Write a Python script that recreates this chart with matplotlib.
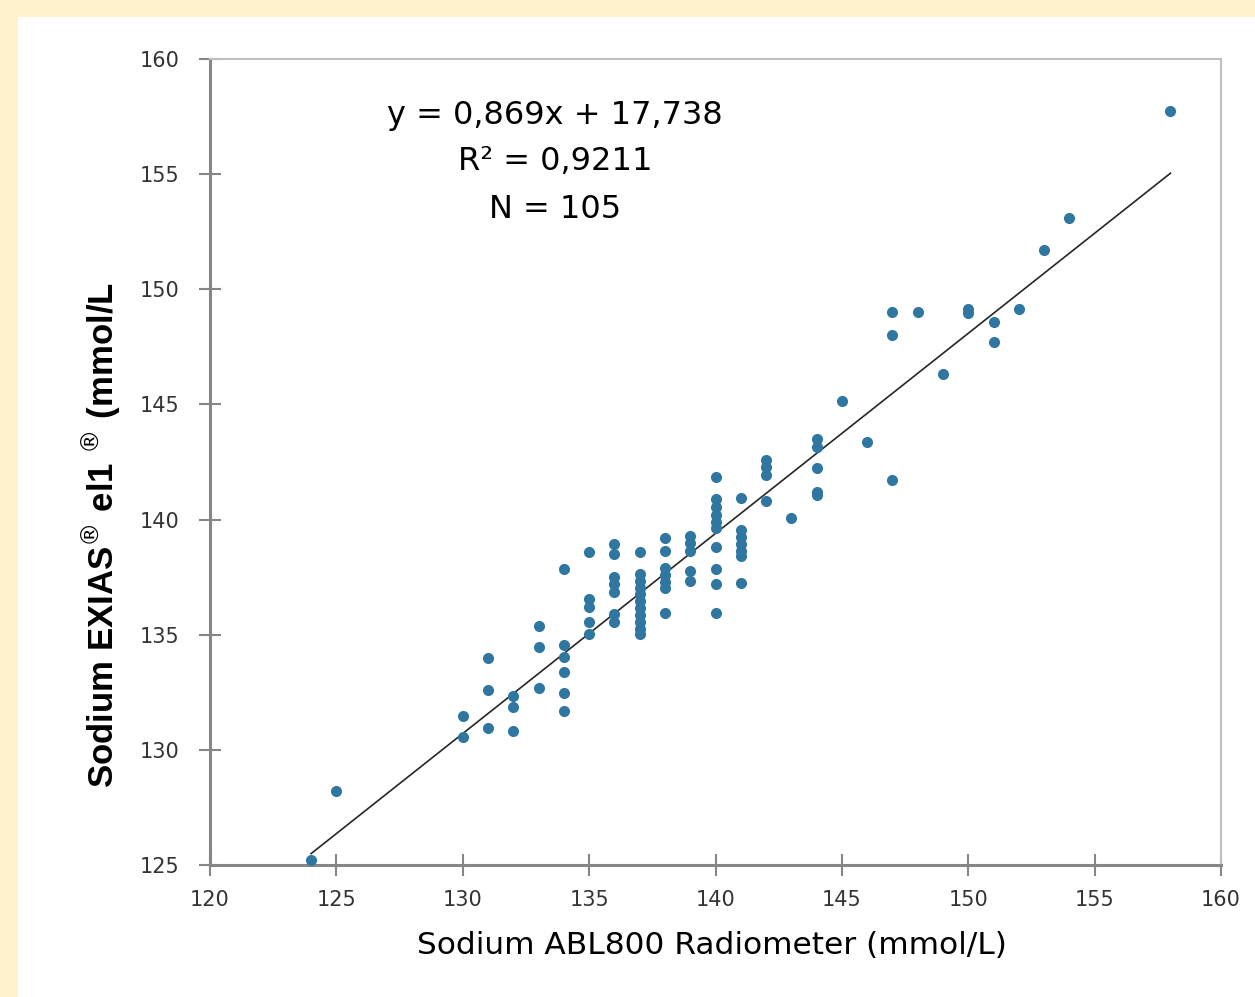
import matplotlib
matplotlib.use("Agg")
import matplotlib.pyplot as plt
from matplotlib.patches import Rectangle
import numpy as np

# ---- data ----
sodium_abl = [
    124, 125,
    130, 130,
    131, 131, 131,
    132, 132, 132,
    133, 133, 133,
    134, 134, 134, 134, 134, 134,
    135, 135, 135, 135, 135,
    136, 136, 136, 136, 136, 136, 136,
    137, 137, 137, 137, 137, 137, 137, 137, 137, 137, 137,
    138, 138, 138, 138, 138, 138, 138,
    139, 139, 139, 139, 139,
    140, 140, 140, 140, 140, 140, 140, 140, 140, 140,
    141, 141, 141, 141, 141, 141, 141,
    142, 142, 142, 142,
    143,
    144, 144, 144, 144, 144,
    145, 146,
    147, 147, 147,
    148, 149,
    150, 150,
    151, 151,
    152, 153, 154, 158,
]
sodium_exias = [
    125.2, 128.2,
    131.45, 130.55,
    134.0, 132.6, 130.95,
    132.35, 131.85, 130.8,
    135.4, 134.45, 132.7,
    137.85, 134.55, 134.05, 133.4, 132.45, 131.7,
    138.6, 136.55, 136.2, 135.55, 135.05,
    138.95, 138.5, 137.5, 137.2, 136.85, 135.9, 135.55,
    138.6, 137.65, 137.35, 137.05, 136.75, 136.45, 136.15, 135.85, 135.55, 135.25, 135.05,
    139.2, 138.65, 137.9, 137.6, 137.3, 137.05, 135.95,
    139.3, 139.0, 138.65, 137.75, 137.35,
    141.85, 140.9, 140.55, 140.2, 139.9, 139.65, 138.8, 137.85, 137.2, 135.95,
    140.95, 139.55, 139.25, 138.95, 138.65, 138.4, 137.25,
    142.6, 142.3, 141.95, 140.8,
    140.05,
    143.5, 143.15, 142.25, 141.2, 141.05,
    145.15, 143.35,
    149.0, 148.0, 141.7,
    149.0, 146.3,
    149.15, 148.95,
    148.6, 147.7,
    149.15, 151.7, 153.1, 157.75,
]
slope = 0.869
intercept = 17.738
r_squared = "0,9211"
n_label = "105"
x_ticks = [120, 125, 130, 135, 140, 145, 150, 155, 160]
y_ticks = [125, 130, 135, 140, 145, 150, 155, 160]

W, H = 1255, 997
fig = plt.figure(figsize=(W / 100, H / 100), dpi=100)
fig.patch.set_facecolor("#FFF2CC")
fig.patches.append(Rectangle((18 / W, 0), 1 - 18 / W, 1 - 17 / H,
                             transform=fig.transFigure, facecolor="white",
                             edgecolor="none", zorder=-10))

ax = fig.add_axes([210 / W, 1 - 865 / H, (1221 - 210) / W, (865 - 59) / H])
ax.set_zorder(1)
ax.set_facecolor("white")

xs = np.array(sodium_abl, dtype=float)
ax.plot(xs, sodium_exias, linestyle="none", marker="o", markersize=8,
        color="#2F77A1", markeredgewidth=0, zorder=3)

xl = np.array([xs.min(), xs.max()])
ax.plot(xl, slope * xl + intercept, color="#262626", linewidth=1.2, zorder=2)

ax.set_xlim(120, 160)
ax.set_ylim(125, 160)
ax.set_xticks(x_ticks)
ax.set_yticks(y_ticks)
ax.set_xticklabels([str(t) for t in x_ticks])
ax.set_yticklabels([str(t) for t in y_ticks])

for s in ("left", "bottom"):
    ax.spines[s].set_color("#868686")
    ax.spines[s].set_linewidth(2.2)
for s in ("top", "right"):
    ax.spines[s].set_color("#BFBFBF")
    ax.spines[s].set_linewidth(1.5)

ax.tick_params(axis="both", direction="inout", length=16, width=1.5,
               color="#868686", labelsize=15, labelcolor="#333333")
ax.tick_params(axis="y", pad=14)
ax.tick_params(axis="x", pad=10)

fig.text(712 / W, 1 - 945 / H, "Sodium ABL800 Radiometer (mmol/L)",
         ha="center", va="center", fontsize=22.5, color="black",
         family="DejaVu Sans")
fig.text(101 / W, 1 - 535 / H,
         r"Sodium EXIAS$^{\circledR}$ el1 $^{\circledR}$ (mmol/L",
         ha="center", va="center", rotation=90, fontsize=25,
         fontweight="bold", color="black", family="Liberation Sans")

fig.text(555 / W, 1 - 115 / H,
         "y = {}x + {}".format(str(slope).replace(".", ","),
                               str(intercept).replace(".", ",")),
         ha="center", va="center", fontsize=23, color="black")
fig.text(555 / W, 1 - 161 / H, "R\u00b2 = " + r_squared,
         ha="center", va="center", fontsize=23, color="black")
fig.text(555 / W, 1 - 209 / H, "N = " + n_label,
         ha="center", va="center", fontsize=23, color="black")

fig.savefig("out.png", dpi=100, facecolor=fig.get_facecolor())
